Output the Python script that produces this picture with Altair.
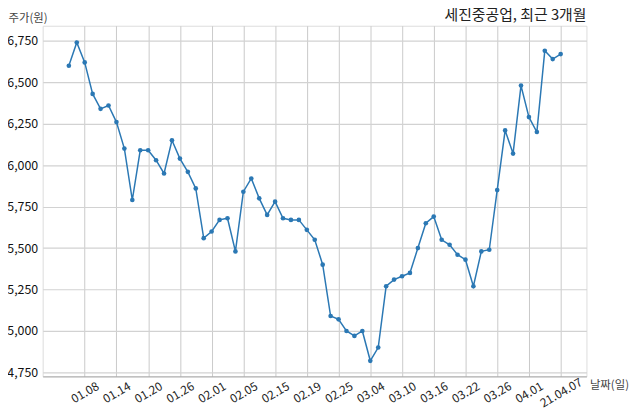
import altair as alt
import pandas as pd

dates = [
    "01.06", "01.07", "01.08", "01.11", "01.12", "01.13", "01.14", "01.15",
    "01.18", "01.19", "01.20", "01.21", "01.22", "01.25", "01.26", "01.27",
    "01.28", "01.29", "02.01", "02.02", "02.03", "02.04", "02.05", "02.08",
    "02.09", "02.10", "02.15", "02.16", "02.17", "02.18", "02.19", "02.22",
    "02.23", "02.24", "02.25", "02.26", "03.02", "03.03", "03.04", "03.05",
    "03.08", "03.09", "03.10", "03.11", "03.12", "03.15", "03.16", "03.17",
    "03.18", "03.19", "03.22", "03.23", "03.24", "03.25", "03.26", "03.29",
    "03.30", "03.31", "04.01", "04.02", "04.05", "04.06", "21.04.07",
]
prices = [
    6600, 6740, 6620, 6430, 6340, 6360, 6260, 6100,
    5790, 6090, 6090, 6030, 5950, 6150, 6040, 5960,
    5860, 5560, 5600, 5670, 5680, 5480, 5840, 5920,
    5800, 5700, 5780, 5680, 5670, 5670, 5610, 5550,
    5400, 5090, 5070, 5000, 4970, 5000, 4820, 4900,
    5270, 5310, 5330, 5350, 5500, 5650, 5690, 5550,
    5520, 5460, 5430, 5270, 5480, 5490, 5850, 6210,
    6070, 6480, 6290, 6200, 6690, 6640, 6670,
]
tick_labels = [
    "01.08", "01.14", "01.20", "01.26", "02.01", "02.05", "02.15", "02.19",
    "02.25", "03.04", "03.10", "03.16", "03.22", "03.26", "04.01", "21.04.07",
]
y_ticks = [4750, 5000, 5250, 5500, 5750, 6000, 6250, 6500, 6750]

title_text = "세진중공업, 최근 3개월"
y_title = "주가(원)"
x_title = "날짜(일)"

# trading-day index for each date (built from the lists above)
df = pd.DataFrame({"idx": list(range(len(dates))), "date": dates, "price": prices})
tick_idx = [dates.index(t) for t in tick_labels]
label_map = "{" + ",".join(f"'{dates.index(t)}':'{t}'" for t in tick_labels) + "}"

FONT = "Noto Sans CJK KR"
COLOR = "#2b78b4"

x_enc = alt.X(
    "idx:Q",
    scale=alt.Scale(domain=[-3.3, len(dates) - 1 + 3.25], nice=False, zero=False),
    axis=alt.Axis(
        values=tick_idx,
        labelExpr=f"{label_map}[''+datum.value]",
        labelAngle=330,
        labelAlign="center",
        labelBaseline="middle",
        labelPadding=16,
        labelFontSize=12,
        labelColor="#222222",
        labelFont=FONT,
        labelFlush=False,
        labelOverlap=False,
        ticks=False,
        grid=True,
        gridColor="#c4c4c4",
        gridWidth=0.9,
        domain=True,
        domainColor="#a8a8a8",
        domainWidth=1,
        title=x_title,
        titleFont=FONT,
        titleFontSize=11.5,
        titleFontWeight="normal",
        titleColor="#444444",
        titleAngle=0,
        titleAlign="left",
        titleBaseline="middle",
        titleX=552,
        titleY=9,
    ),
)

y_enc = alt.Y(
    "price:Q",
    scale=alt.Scale(domain=[4726, 6841], nice=False, zero=False),
    axis=alt.Axis(
        values=y_ticks,
        format=",d",
        labelFont=FONT,
        labelFontSize=12.5,
        labelColor="#111111",
        labelPadding=5,
        ticks=False,
        domain=False,
        grid=True,
        gridColor="#d2d2d2",
        gridWidth=1.2,
        title=y_title,
        titleFont=FONT,
        titleFontSize=11.5,
        titleFontWeight="normal",
        titleColor="#444444",
        titleAngle=0,
        titleAlign="left",
        titleBaseline="middle",
        titleX=-35,
        titleY=-7.5,
    ),
)

base = alt.Chart(df).encode(x=x_enc, y=y_enc, tooltip=["date:N", "price:Q"])
line = base.mark_line(color=COLOR, strokeWidth=1.5)
pts = base.mark_point(filled=True, color=COLOR, size=22, opacity=1)

chart = (
    alt.layer(line, pts)
    .properties(
        width=549,
        height=354,
        autosize=alt.AutoSizeParams(type="none"),
        padding={"left": 35, "top": 16, "right": 46, "bottom": 33},
        title=alt.TitleParams(
            text=title_text,
            anchor="end",
            frame="group",
            font=FONT,
            fontSize=15,
            fontWeight="normal",
            color="#222222",
            baseline="bottom",
            offset=-26,
        ),
    )
    .configure_view(stroke=None)
    .configure(background="white")
)

chart.save("out.html", embed_options={"renderer": "svg", "actions": False})
